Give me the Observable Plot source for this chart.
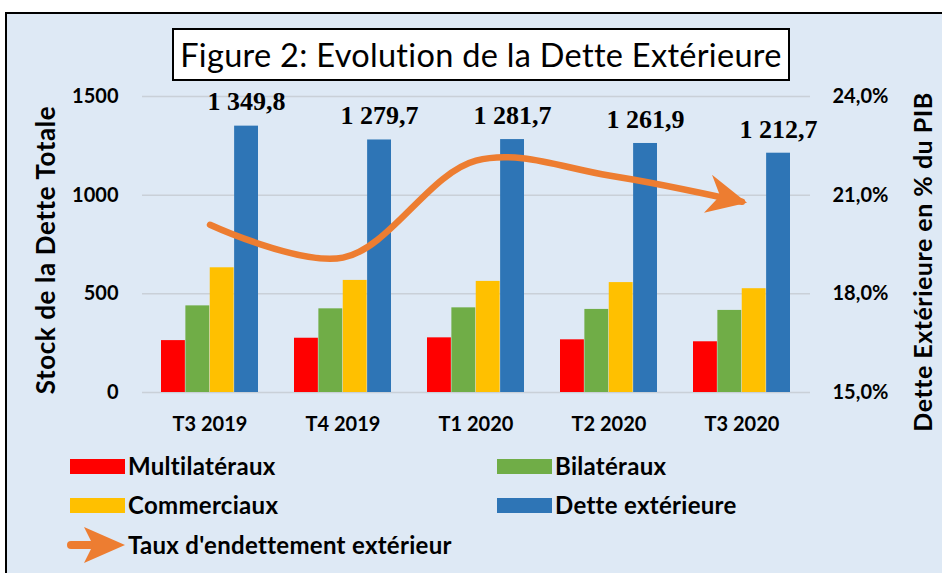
<!DOCTYPE html>
<html>
<head>
<meta charset="utf-8">
<script src="https://cdn.jsdelivr.net/npm/d3@7"></script>
<script src="https://cdn.jsdelivr.net/npm/@observablehq/plot@0.6"></script>
<style>
  body { margin: 0; background: #fff; }
  #frame { position: relative; width: 942px; height: 573px; overflow: hidden; background: #fff; font-family: Lato, "Open Sans", sans-serif; color: #000; }
  #panel { position: absolute; left: 5px; top: 12px; width: 937px; height: 561px; background: #dee9f5; border-left: 2px solid #000; border-top: 2px solid #000; box-sizing: border-box; }
  #title { position: absolute; left: 172px; top: 28px; width: 618px; height: 53px; background: #fff; border: 2px solid #000; box-sizing: border-box; font-size: 32.5px; letter-spacing: 0.3px; line-height: 49px; text-align: center; white-space: nowrap; }
  #chart { position: absolute; left: 0; top: 0; }
  .ylab { position: absolute; font-weight: 700; white-space: nowrap; transform-origin: center center; }
  #ylabL { font-size: 26px; letter-spacing: 0.6px; }
  #ylabR { font-size: 25px; letter-spacing: 0.5px; }
  .leg { position: absolute; font-weight: 700; font-size: 24px; letter-spacing: 0.3px; white-space: nowrap; line-height: 28px; }
  .sw { position: absolute; width: 55px; height: 15px; }
</style>
</head>
<body>
<div id="frame">
  <div id="panel"></div>
  <div id="chart"></div>
  <div id="title">Figure 2: Evolution de la Dette Extérieure</div>
  <div class="ylab" id="ylabL">Stock de la Dette Totale</div>
  <div class="ylab" id="ylabR">Dette Extérieure en % du PIB</div>
  <div id="legend"></div>
</div>
<script>
// ---- data ----
const quarters = ["T3 2019", "T4 2019", "T1 2020", "T2 2020", "T3 2020"];
const seriesNames = ["Multilatéraux", "Bilatéraux", "Commerciaux", "Dette extérieure"];
const multilateraux = [263, 275, 277, 267, 257];
const bilateraux = [439, 424, 429, 421, 416];
const commerciaux = [632, 568, 563, 557, 526];
const detteExterieure = [1349.8, 1279.7, 1281.7, 1261.9, 1212.7];
const tauxEndettement = [20.1, 19.1, 22.05, 21.6, 20.8];
const lineName = "Taux d'endettement extérieur";
const leftTicks = [0, 500, 1000, 1500];
const rightTicks = [15, 18, 21, 24];
const colors = ["#ff0000", "#70ad47", "#ffc000", "#2e75b6"];
const lineColor = "#ed7d31";

// ---- helpers ----
const seriesValues = [multilateraux, bilateraux, commerciaux, detteExterieure];
const pctMin = rightTicks[0], pctMax = rightTicks[rightTicks.length - 1];
const yMax = leftTicks[leftTicks.length - 1];
const toLeft = p => (p - pctMin) / (pctMax - pctMin) * yMax;
const fromLeft = v => pctMin + v / yMax * (pctMax - pctMin);
const frLocale = d3.formatLocale({decimal: ",", thousands: " ", grouping: [3], currency: ["", ""]});
const fmtVal = frLocale.format(",.1f");
const fmtPct = p => p.toFixed(1).replace(".", ",") + "%";

const lineData = quarters.map((q, i) => ({quarter: q, pct: tauxEndettement[i], y: toLeft(tauxEndettement[i])}));
const labelData = quarters.map((q, i) => ({quarter: q, value: detteExterieure[i]}));

const bandW = 97.5, barW = bandW / 4;
const barMarks = seriesValues.map((vals, k) =>
  Plot.barY(quarters.map((q, i) => ({quarter: q, value: vals[i]})), {
    x: "quarter", y: "value", fill: colors[k],
    insetLeft: k * barW, insetRight: (3 - k) * barW
  })
);

// arrowhead symbol (tip at origin, pointing right-down)
const arrowHead = {
  draw(ctx) {
    ctx.moveTo(5, 1);
    ctx.lineTo(-30, -27);
    ctx.lineTo(-22, -6);
    ctx.lineTo(-38, 11);
    ctx.closePath();
  }
};

const chart = Plot.plot({
  width: 942, height: 440,
  marginLeft: 142, marginRight: 132, marginTop: 96, marginBottom: 48,
  style: {background: "transparent", fontFamily: "Lato, sans-serif", fontWeight: 700, fontSize: "20px", color: "#000"},
  x: {domain: quarters, paddingInner: 0.27, paddingOuter: 0.135, label: null},
  y: {domain: [0, yMax], label: null},
  marks: [
    Plot.gridY(leftTicks, {stroke: "#c9d0d8", strokeOpacity: 1, strokeWidth: 1.5}),
    ...barMarks,
    Plot.line(lineData, {x: "quarter", y: "y", curve: "catmull-rom", stroke: lineColor, strokeWidth: 6.5}),
    Plot.dot(lineData.slice(-1), {x: "quarter", y: "y", symbol: arrowHead, r: 20, fill: lineColor, stroke: "none"}),
    Plot.text(labelData, {x: "quarter", y: "value", text: d => fmtVal(d.value), dx: barW * 1.5, dy: -24,
      fontFamily: "'Liberation Serif', 'Times New Roman', serif", fontWeight: 700, fontSize: 26, fill: "#000"}),
    Plot.axisX({tickSize: 0, tickPadding: 24, label: null, fontWeight: 700}),
    Plot.axisY({anchor: "left", ticks: leftTicks, tickSize: 0, tickPadding: 24, label: null, tickFormat: d => String(d)}),
    Plot.axisY({anchor: "right", ticks: rightTicks.map(toLeft), tickSize: 0, tickPadding: 22, label: null, tickFormat: d => fmtPct(fromLeft(d))})
  ]
});
document.getElementById("chart").appendChild(chart);

// axis titles
function placeRot(id, cx, cy) {
  const el = document.getElementById(id);
  const w = el.offsetWidth, h = el.offsetHeight;
  el.style.left = (cx - w / 2) + "px";
  el.style.top = (cy - h / 2) + "px";
  el.style.transform = "rotate(-90deg)";
}
placeRot("ylabL", 45, 250);
placeRot("ylabR", 921, 262);

// legend
const legend = document.getElementById("legend");
const legItems = [
  {name: seriesNames[0], color: colors[0], x: 70, y: 466},
  {name: seriesNames[1], color: colors[1], x: 497, y: 466},
  {name: seriesNames[2], color: colors[2], x: 70, y: 505},
  {name: seriesNames[3], color: colors[3], x: 497, y: 505}
];
legItems.forEach(it => {
  const sw = document.createElement("div");
  sw.className = "sw"; sw.style.background = it.color;
  sw.style.left = it.x + "px"; sw.style.top = (it.y - 7.5) + "px";
  legend.appendChild(sw);
  const t = document.createElement("div");
  t.className = "leg"; t.textContent = it.name;
  t.style.left = (it.x + 58) + "px"; t.style.top = (it.y - 14) + "px";
  legend.appendChild(t);
});
const arrowSvg = document.createElementNS("http://www.w3.org/2000/svg", "svg");
arrowSvg.setAttribute("width", 70); arrowSvg.setAttribute("height", 44);
arrowSvg.style.position = "absolute"; arrowSvg.style.left = "60px"; arrowSvg.style.top = "523px";
arrowSvg.innerHTML = `<line x1="11" y1="22" x2="40" y2="22" stroke="${lineColor}" stroke-width="8" stroke-linecap="round"/>
<path d="M65,22 L24,4 L33,22 L24,40 Z" fill="${lineColor}"/>`;
legend.appendChild(arrowSvg);
const lt = document.createElement("div");
lt.className = "leg"; lt.textContent = lineName;
lt.style.left = "128px"; lt.style.top = (545 - 14) + "px";
legend.appendChild(lt);
</script>
</body>
</html>
